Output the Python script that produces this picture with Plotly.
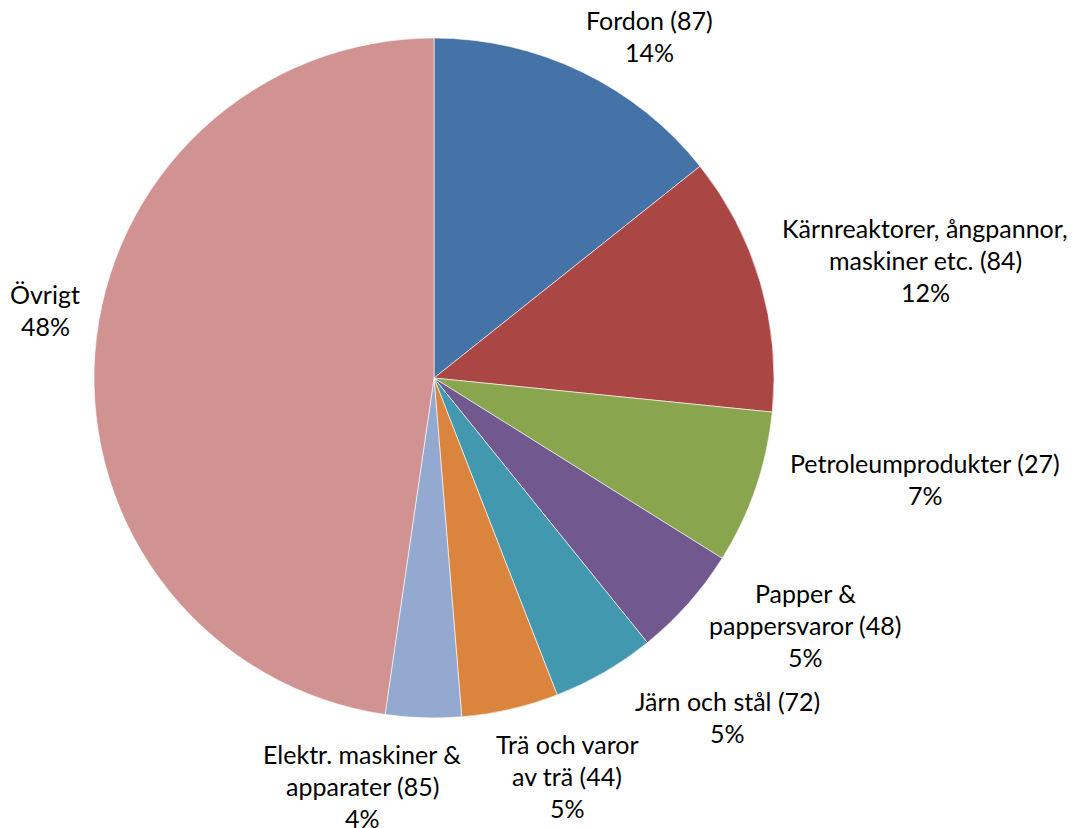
import plotly.graph_objects as go

categories = [
    "Fordon (87)",
    "Kärnreaktorer, ångpannor,<br>maskiner etc. (84)",
    "Petroleumprodukter (27)",
    "Papper &<br>pappersvaror (48)",
    "Järn och stål (72)",
    "Trä och varor<br>av trä (44)",
    "Elektr. maskiner &<br>apparater (85)",
    "Övrigt",
]
values = [14.3, 12.3, 7.3, 5.3, 4.9, 4.6, 3.6, 47.7]
colors = ["#4572A7", "#AA4643", "#89A54E", "#71588F", "#4198AF", "#DB843D", "#93A9CF", "#D19392"]

# label block centres (pixels in the 1086x828 window)
label_pos = [(650, 36), (925, 260), (925, 479), (805, 625), (727, 717), (567, 776), (362, 786), (45, 310)]

OFF = 8  # page body margin
W, H = 1086 - OFF, 828 - OFF
cx, cy, R = 434 - OFF, 378 - OFF, 340

fig = go.Figure(go.Pie(
    labels=[c.replace("<br>", " ") for c in categories],
    values=values,
    sort=False,
    direction="clockwise",
    rotation=0,
    marker=dict(colors=colors, line=dict(color="rgba(255,255,255,0.6)", width=1)),
    textinfo="none",
    hoverinfo="label+percent",
    showlegend=False,
    domain=dict(x=[(cx - R) / W, (cx + R) / W], y=[1 - (cy + R) / H, 1 - (cy - R) / H]),
))

total = sum(values)
line_h = 32
annotations = []
for cat, v, (px, py) in zip(categories, values, label_pos):
    lines = cat.split("<br>") + [f"{round(100 * v / total)}%"]
    n = len(lines)
    for i, ln in enumerate(lines):
        y = py - OFF + (i - (n - 1) / 2) * line_h
        annotations.append(dict(
            x=(px - OFF) / W, y=1 - y / H, xref="paper", yref="paper",
            text=ln, showarrow=False, xanchor="center", yanchor="middle",
            font=dict(family="Lato", size=25, color="#000000"),
        ))

fig.update_layout(
    width=W, height=H,
    margin=dict(l=0, r=0, t=0, b=0),
    paper_bgcolor="white", plot_bgcolor="white",
    annotations=annotations,
)
fig.write_html("out.html")
